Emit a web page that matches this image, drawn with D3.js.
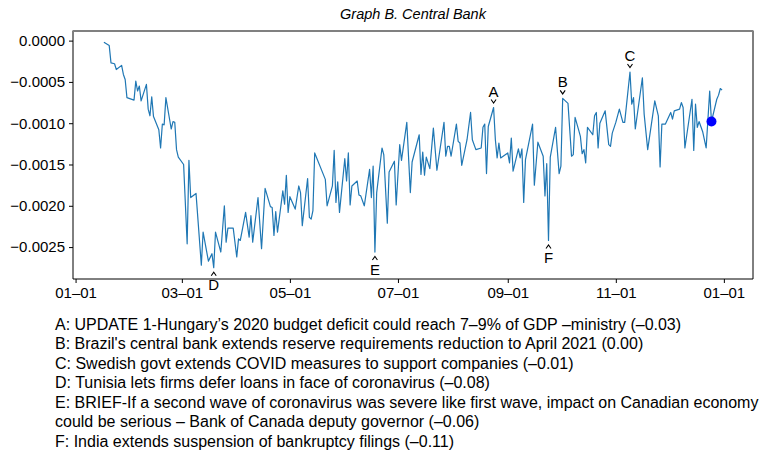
<!DOCTYPE html>
<html>
<head>
<meta charset="utf-8">
<script src="https://cdn.jsdelivr.net/npm/d3@7"></script>
<style>
  html, body { margin: 0; padding: 0; background: #fff; }
  svg { display: block; font-family: "Liberation Sans", Arial, Helvetica, sans-serif; }
</style>
</head>
<body>
<svg id="chart" width="762" height="450"></svg>
<script>
// ---- data (day offsets from 2020-01-01, values) ----
const dayOffsets = [16,19,20,22,23,26,27,28,29,33,34,35,36,37,40,41,42,43,44,47,48,49,50,51,54,55,56,57,58,61,
  63,64,65,68,71,72,75,77,78,79,82,84,85,86,89,91,92,93,96,98,99,100,103,105,107,110,111,112,113,114,
  117,118,119,120,121,124,126,127,128,131,132,133,134,135,141,142,145,146,147,148,149,152,153,154,155,156,159,160,161,163,
  166,167,168,169,170,173,174,176,177,180,181,183,184,187,189,190,194,195,196,197,198,200,202,204,208,209,210,211,212,215,
  216,217,218,221,223,224,226,229,230,231,232,233,236,237,238,239,240,244,245,246,247,250,251,252,253,254,258,259,261,264,
  265,266,267,268,271,273,274,275,278,280,281,282,284,285,286,287,288,289,292,293,294,295,296,299,301,302,303,305,307,309,
  310,313,314,315,316,320,321,323,327,329,330,331,333,336,337,338,341,342,343,344,348,349,350,351,352,354,356,358,359,362,
  363,364,365];
const values = [-0.00002,-0.00006,-0.00027,-0.00028,-0.00035,-0.00030,-0.00041,-0.00047,-0.00069,-0.00072,
  -0.00049,-0.00061,-0.00055,-0.00073,-0.00053,-0.00083,-0.00091,-0.00068,-0.00092,-0.00108,
  -0.00130,-0.00101,-0.00102,-0.00069,-0.00107,-0.00098,-0.00099,-0.00132,-0.00141,-0.00150,
  -0.00246,-0.00145,-0.00190,-0.00185,-0.00272,-0.00232,-0.00267,-0.00258,-0.00275,-0.00232,
  -0.00256,-0.00200,-0.00244,-0.00227,-0.00227,-0.00262,-0.00240,-0.00242,-0.00208,-0.00238,
  -0.00212,-0.00244,-0.00190,-0.00252,-0.00179,-0.00201,-0.00202,-0.00236,-0.00207,-0.00232,
  -0.00182,-0.00198,-0.00163,-0.00208,-0.00189,-0.00204,-0.00176,-0.00184,-0.00224,-0.00167,
  -0.00214,-0.00216,-0.00206,-0.00136,-0.00168,-0.00200,-0.00176,-0.00133,-0.00196,-0.00171,
  -0.00208,-0.00143,-0.00170,-0.00136,-0.00199,-0.00176,-0.00170,-0.00187,-0.00188,-0.00200,
  -0.00156,-0.00190,-0.00152,-0.00256,-0.00184,-0.00130,-0.00138,-0.00221,-0.00159,-0.00146,
  -0.00199,-0.00126,-0.00145,-0.00099,-0.00184,-0.00147,-0.00114,-0.00162,-0.00135,-0.00163,
  -0.00141,-0.00155,-0.00106,-0.00157,-0.00099,-0.00140,-0.00128,-0.00128,-0.00140,-0.00101,
  -0.00122,-0.00124,-0.00151,-0.00120,-0.00087,-0.00120,-0.00132,-0.00130,-0.00105,-0.00101,
  -0.00161,-0.00104,-0.00081,-0.00120,-0.00142,-0.00124,-0.00142,-0.00136,-0.00148,-0.00118,
  -0.00158,-0.00131,-0.00142,-0.00131,-0.00196,-0.00144,-0.00101,-0.00175,-0.00123,-0.00140,
  -0.00188,-0.00149,-0.00242,-0.00141,-0.00105,-0.00161,-0.00152,-0.00070,-0.00076,-0.00140,
  -0.00138,-0.00093,-0.00108,-0.00116,-0.00137,-0.00132,-0.00148,-0.00105,-0.00114,-0.00091,
  -0.00087,-0.00130,-0.00100,-0.00085,-0.00126,-0.00128,-0.00112,-0.00099,-0.00083,-0.00099,
  -0.00099,-0.00038,-0.00077,-0.00069,-0.00107,-0.00045,-0.00089,-0.00132,-0.00073,-0.00091,
  -0.00153,-0.00101,-0.00101,-0.00087,-0.00095,-0.00085,-0.00083,-0.00075,-0.00081,-0.00130,
  -0.00071,-0.00133,-0.00077,-0.00105,-0.00098,-0.00110,-0.00130,-0.00061,-0.00098,-0.00071,
  -0.00066,-0.00058,-0.00060];

const annotLabels = ["A","B","C","D","E","F"];
const annotDays   = [236, 275, 313, 78, 169, 267];
const annotAbove  = [true, true, true, false, false, false];
const highlightDay = 359;

const xTickDates = ["2020-01-01","2020-03-01","2020-05-01","2020-07-01","2020-09-01","2020-11-01","2021-01-01"];
const yTickValues = [0, -0.0005, -0.0010, -0.0015, -0.0020, -0.0025];

const title = "Graph B. Central Bank";
const notes = [
  "A: UPDATE 1-Hungary’s 2020 budget deficit could reach 7–9% of GDP –ministry (–0.03)",
  "B: Brazil's central bank extends reserve requirements reduction to April 2021 (0.00)",
  "C: Swedish govt extends COVID measures to support companies (–0.01)",
  "D: Tunisia lets firms defer loans in face of coronavirus (–0.08)",
  "E: BRIEF-If a second wave of coronavirus was severe like first wave, impact on Canadian economy",
  "could be serious – Bank of Canada deputy governor (–0.06)",
  "F: India extends suspension of bankruptcy filings (–0.11)"
];

// ---- build ----
const base = Date.UTC(2020, 0, 1);
const data = dayOffsets.map((d, i) => ({ date: d3.utcDay.offset(new Date(base), d), value: values[i] }));

const svg = d3.select("#chart");
const m = { left: 73, right: 753, top: 31, bottom: 279 };

const xExt = d3.extent(data, d => d.date);
const xPad = (xExt[1] - xExt[0]) * 0.05;
const x = d3.scaleUtc()
  .domain([new Date(+xExt[0] - xPad), new Date(+xExt[1] + xPad)])
  .range([m.left, m.right]);

const yExt = d3.extent(data, d => d.value);
const yPad = (yExt[1] - yExt[0]) * 0.05;
const y = d3.scaleLinear()
  .domain([yExt[0] - yPad, yExt[1] + yPad])
  .range([m.bottom, m.top]);

// title
svg.append("text")
  .attr("x", (m.left + m.right) / 2).attr("y", 19)
  .attr("text-anchor", "middle")
  .attr("font-size", 14.5).attr("font-style", "italic")
  .text(title);

// line
svg.append("path")
  .datum(data)
  .attr("fill", "none")
  .attr("stroke", "#1f77b4")
  .attr("stroke-width", 1.2)
  .attr("stroke-linejoin", "round")
  .attr("d", d3.line().x(d => x(d.date)).y(d => y(d.value)));

// highlight point
const hp = data.find(d => +d.date === +d3.utcDay.offset(new Date(base), highlightDay));
svg.append("circle")
  .attr("cx", x(hp.date)).attr("cy", y(hp.value)).attr("r", 5)
  .attr("fill", "#0000ff");

// annotations
annotLabels.forEach((lab, i) => {
  const p = data.find(d => +d.date === +d3.utcDay.offset(new Date(base), annotDays[i]));
  const px = x(p.date), py = y(p.value);
  const g = svg.append("g");
  if (annotAbove[i]) {
    g.append("path").attr("d", `M${px-2.5},${py-8} L${px},${py-4.5} L${px+2.5},${py-8}`)
      .attr("fill", "none").attr("stroke", "#000").attr("stroke-width", 1.1);
    g.append("text").attr("x", px).attr("y", py - 11).attr("text-anchor", "middle")
      .attr("font-size", 15).text(lab);
  } else {
    g.append("path").attr("d", `M${px-2.5},${py+8} L${px},${py+4.5} L${px+2.5},${py+8}`)
      .attr("fill", "none").attr("stroke", "#000").attr("stroke-width", 1.1);
    g.append("text").attr("x", px).attr("y", py + 22.5).attr("text-anchor", "middle")
      .attr("font-size", 15).text(lab);
  }
});

// axes
const fmtY = v => (v < 0 ? "\u2212" : "") + d3.format(".4f")(Math.abs(v));
const yAxis = svg.append("g").attr("transform", `translate(${m.left},0)`)
  .call(d3.axisLeft(y).tickValues(yTickValues).tickFormat(fmtY).tickSize(4).tickPadding(4));
const fmtX = d3.utcFormat("%m–%d");
const xAxis = svg.append("g").attr("transform", `translate(0,${m.bottom})`)
  .call(d3.axisBottom(x).tickValues(xTickDates.map(s => new Date(s + "T00:00:00Z"))).tickFormat(fmtX).tickSize(4).tickPadding(4));
[xAxis, yAxis].forEach(a => {
  a.select(".domain").remove();
  a.selectAll("text").attr("font-size", 15).attr("fill", "#000").attr("font-family", "Liberation Sans, Arial, sans-serif");
  a.selectAll("line").attr("stroke", "#000");
});

// frame
svg.append("line").attr("x1", m.left).attr("x2", m.left).attr("y1", m.top).attr("y2", m.bottom).attr("stroke", "#000").attr("stroke-width", 1);
svg.append("line").attr("x1", m.left).attr("x2", m.right).attr("y1", m.bottom).attr("y2", m.bottom).attr("stroke", "#000").attr("stroke-width", 1);
svg.append("line").attr("x1", m.right).attr("x2", m.right).attr("y1", m.top).attr("y2", m.bottom).attr("stroke", "#000").attr("stroke-width", 1);
svg.append("line").attr("x1", m.left - 0.5).attr("x2", m.right + 0.5).attr("y1", m.top).attr("y2", m.top).attr("stroke", "#808080").attr("stroke-width", 2);

// notes
notes.forEach((t, i) => {
  svg.append("text").attr("x", 55).attr("y", 329.5 + i * 19.5)
    .attr("font-size", 16).attr("fill", "#000").text(t);
});
</script>
</body>
</html>
